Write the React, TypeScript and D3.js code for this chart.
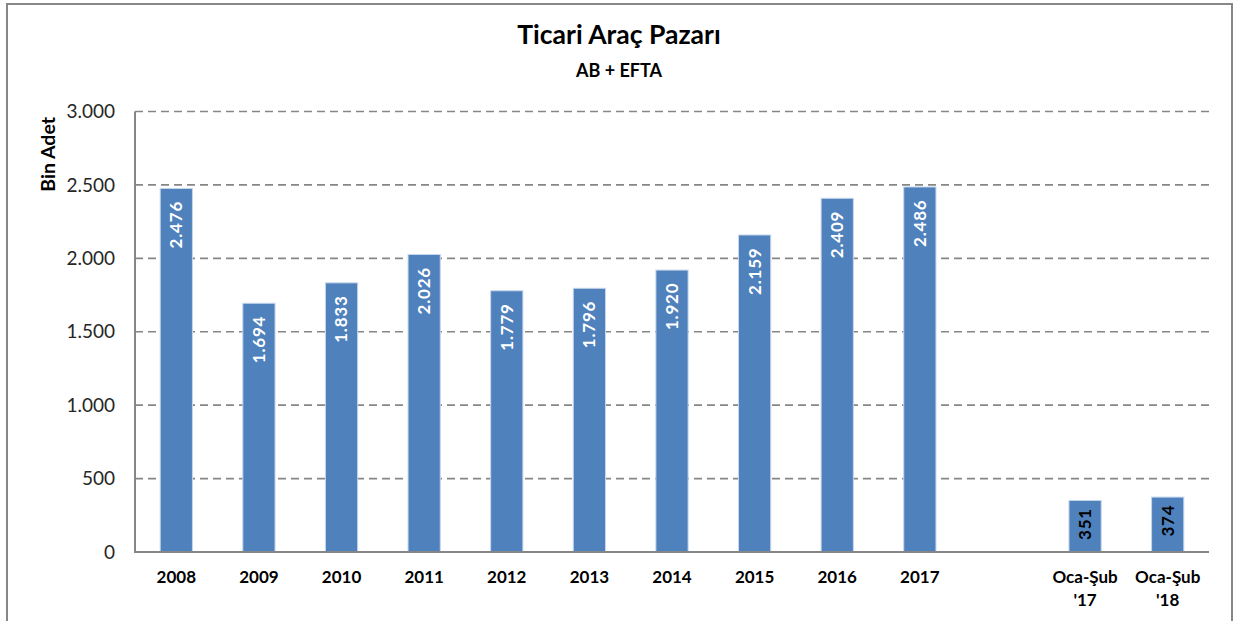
import React, { useEffect, useRef } from "react";
import * as d3 from "d3";

const categories: string[][] = [
  ["2008"], ["2009"], ["2010"], ["2011"], ["2012"], ["2013"], ["2014"],
  ["2015"], ["2016"], ["2017"], [""], ["Oca-Şub", "'17"], ["Oca-Şub", "'18"],
];
const values: (number | null)[] = [2476, 1694, 1833, 2026, 1779, 1796, 1920, 2159, 2409, 2486, null, 351, 374];
const yTicks: number[] = [0, 500, 1000, 1500, 2000, 2500, 3000];
const title = "Ticari Araç Pazarı";
const subtitle = "AB + EFTA";
const yTitle = "Bin Adet";

const W = 1243;
const H = 621;
const FONT = "Lato, 'Open Sans', sans-serif";

export default function App() {
  const ref = useRef<SVGSVGElement>(null);
  useEffect(() => {
    const svg = d3.select(ref.current);
    svg.selectAll("*").remove();
    const locale = d3.formatLocale({ decimal: ",", thousands: ".", grouping: [3], currency: ["", ""] });
    const fmt = locale.format(",d");

    const left = 135, right = 1209, top = 111.5, bottom = 552;
    const x = d3.scaleBand<number>().domain(d3.range(categories.length)).range([left, right]).paddingInner(0.61).paddingOuter(0.305);
    const y = d3.scaleLinear().domain([0, 3000]).range([bottom, top]);

    svg.append("rect").attr("x", 7).attr("y", 4).attr("width", 1225).attr("height", 640)
      .attr("fill", "#fff").attr("stroke", "#878787").attr("stroke-width", 2);

    svg.append("text").attr("x", 619).attr("y", 44).attr("text-anchor", "middle")
      .attr("font-family", FONT).attr("font-weight", "bold").attr("font-size", 26.5).attr("fill", "#000").text(title);
    svg.append("text").attr("x", 619).attr("y", 77).attr("text-anchor", "middle")
      .attr("font-family", FONT).attr("font-weight", "bold").attr("font-size", 18).attr("fill", "#000").text(subtitle);

    // gridlines
    svg.append("g").selectAll("line").data(yTicks.filter((t) => t > 0)).join("line")
      .attr("x1", left).attr("x2", right).attr("y1", (d) => y(d)).attr("y2", (d) => y(d))
      .attr("stroke", "#868686").attr("stroke-width", 1.6).attr("stroke-dasharray", "8,5");

    // tick labels
    svg.append("g").selectAll("text").data(yTicks).join("text")
      .attr("x", 115).attr("y", (d) => y(d)).attr("dy", "0.35em").attr("text-anchor", "end")
      .attr("font-family", FONT).attr("font-size", 19).attr("fill", "#262626").text((d) => fmt(d));

    // bars
    const data = values.map((v, i) => ({ v, i })).filter((d) => d.v !== null) as { v: number; i: number }[];
    svg.append("g").selectAll("rect").data(data).join("rect")
      .attr("x", (d) => x(d.i)!).attr("width", x.bandwidth())
      .attr("y", (d) => y(d.v)).attr("height", (d) => bottom - y(d.v))
      .attr("fill", "#4F81BD").attr("stroke", "#C6D6EC").attr("stroke-width", 1);

    // axes lines
    svg.append("line").attr("x1", left).attr("x2", left).attr("y1", top).attr("y2", bottom)
      .attr("stroke", "#868686").attr("stroke-width", 2);
    svg.append("line").attr("x1", left - 1).attr("x2", right).attr("y1", bottom).attr("y2", bottom)
      .attr("stroke", "#868686").attr("stroke-width", 2);

    // value labels
    svg.append("g").selectAll("text").data(data).join("text")
      .attr("transform", (d) => {
        const small = d.v < 1000;
        return `translate(${x(d.i)! + x.bandwidth() / 2},${y(d.v) + (small ? 7.5 : 12.5)}) rotate(-90)`;
      })
      .attr("dy", "0.35em").attr("text-anchor", "end")
      .attr("font-family", FONT).attr("font-weight", "bold").attr("font-size", 17)
      .attr("letter-spacing", 0.8)
      .attr("fill", (d) => (d.v < 1000 ? "#000" : "#fff")).text((d) => fmt(d.v));

    // category labels
    const cg = svg.append("g");
    categories.forEach((lines, i) => {
      lines.forEach((ln, j) => {
        cg.append("text").attr("x", x(i)! + x.bandwidth() / 2).attr("y", 583 + j * 23)
          .attr("text-anchor", "middle").attr("font-family", FONT).attr("font-weight", "bold")
          .attr("font-size", 17).attr("fill", "#000").text(ln);
      });
    });

    // y title
    svg.append("text").attr("transform", "translate(55,117) rotate(-90)").attr("text-anchor", "end")
      .attr("font-family", FONT).attr("font-weight", "bold").attr("font-size", 19.5).attr("fill", "#000").text(yTitle);
  }, []);
  return <svg ref={ref} width={W} height={H} style={{ position: "absolute", left: 0, top: 0, background: "#fff" }} />;
}
